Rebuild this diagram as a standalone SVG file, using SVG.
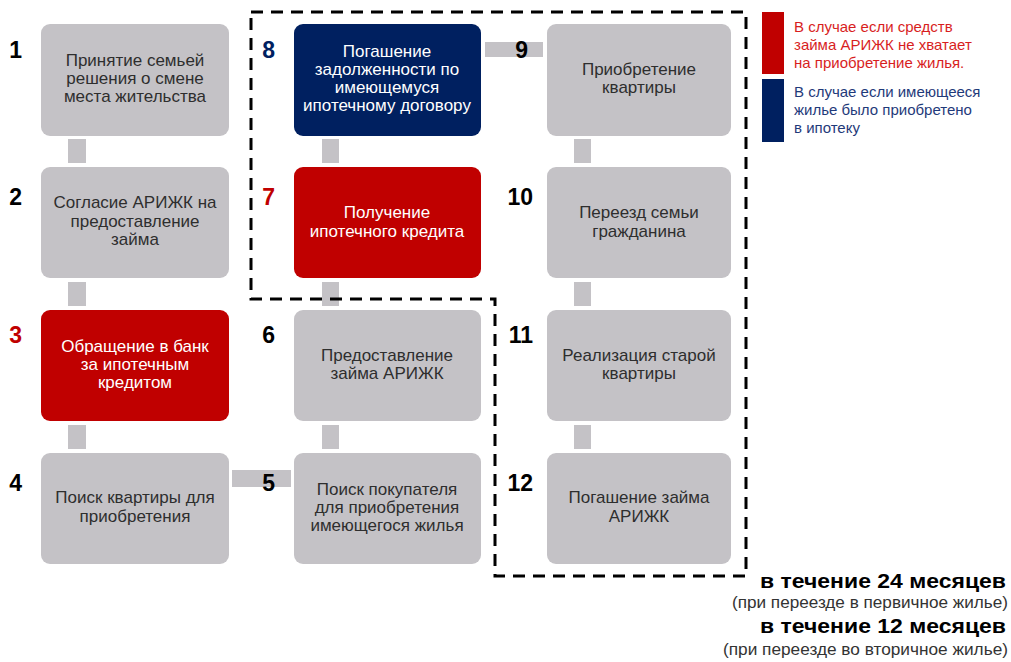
<svg xmlns="http://www.w3.org/2000/svg" width="1011" height="662" viewBox="0 0 1011 662">
<style>
.box{fill:#C4C2C6}
.red{fill:#C00000}
.navy{fill:#002060}
.bar{fill:#C4C2C6}
.t{font-family:"Liberation Sans",Arial,sans-serif;font-size:17px;text-anchor:middle;fill:#2E2E2E}
.w{fill:#FFFFFF}
.n{font-family:"Liberation Sans",Arial,sans-serif;font-size:23px;font-weight:bold;fill:#000}
.nr{fill:#C00000}
.nb{fill:#002060}
.lg{font-family:"Liberation Sans",Arial,sans-serif;font-size:15px}
.b{font-family:"Liberation Sans",Arial,sans-serif;font-size:20px;font-weight:bold;text-anchor:end;fill:#000}
.s{font-family:"Liberation Sans",Arial,sans-serif;font-size:16.5px;text-anchor:end;fill:#333}
</style>
<rect width="1011" height="662" fill="#FFFFFF"/>
<g id="connectors">
<rect class="bar" x="68" y="139" width="18" height="24"/>
<rect class="bar" x="68" y="282" width="18" height="24"/>
<rect class="bar" x="68" y="425" width="18" height="24"/>
<rect class="bar" x="322" y="139" width="17" height="24"/>
<rect class="bar" x="322" y="282" width="17" height="24"/>
<rect class="bar" x="322" y="425" width="17" height="24"/>
<rect class="bar" x="574" y="139" width="17" height="24"/>
<rect class="bar" x="574" y="282" width="17" height="24"/>
<rect class="bar" x="574" y="425" width="17" height="24"/>
<rect class="bar" x="485" y="42" width="58" height="15"/>
<rect class="bar" x="232" y="470" width="59" height="17"/>
</g>
<g id="region">
<path d="M251,12 H746 V576 H495 V299 H251 Z" fill="none" stroke="#000" stroke-width="3" stroke-dasharray="12,8"/>
</g>
<g id="node1">
<rect class="box" x="41" y="24" width="188" height="112" rx="9"/>
<text class="t" x="135" y="66">Принятие семьей</text>
<text class="t" x="135" y="84">решения о смене</text>
<text class="t" x="135" y="102">места жительства</text>
<text class="n" x="22" y="58" text-anchor="end">1</text>
</g>
<g id="node2">
<rect class="box" x="41" y="167" width="188" height="111" rx="9"/>
<text class="t" x="135" y="208">Согласие АРИЖК на</text>
<text class="t" x="135" y="227">предоставление</text>
<text class="t" x="135" y="245">займа</text>
<text class="n" x="22" y="205" text-anchor="end">2</text>
</g>
<g id="node3">
<rect class="red" x="41" y="310" width="188" height="111" rx="9"/>
<text class="t w" x="135" y="352">Обращение  в банк</text>
<text class="t w" x="135" y="370">за ипотечным</text>
<text class="t w" x="135" y="388">кредитом</text>
<text class="n nr" x="22" y="343" text-anchor="end">3</text>
</g>
<g id="node4">
<rect class="box" x="41" y="453" width="188" height="111" rx="9"/>
<text class="t" x="135" y="503">Поиск квартиры для</text>
<text class="t" x="135" y="522">приобретения</text>
<text class="n" x="22" y="491" text-anchor="end">4</text>
</g>
<g id="node5">
<rect class="box" x="294" y="453" width="187" height="111" rx="9"/>
<text class="t" x="387" y="495">Поиск покупателя</text>
<text class="t" x="387" y="513">для приобретения</text>
<text class="t" x="387" y="531">имеющегося жилья</text>
<text class="n" x="275" y="491" text-anchor="end">5</text>
</g>
<g id="node6">
<rect class="box" x="294" y="310" width="187" height="111" rx="9"/>
<text class="t" x="387" y="361">Предоставление</text>
<text class="t" x="387" y="379">займа  АРИЖК</text>
<text class="n" x="275" y="343" text-anchor="end">6</text>
</g>
<g id="node7">
<rect class="red" x="294" y="167" width="187" height="111" rx="9"/>
<text class="t w" x="387" y="218">Получение</text>
<text class="t w" x="387" y="237">ипотечного  кредита</text>
<text class="n nr" x="275" y="205" text-anchor="end">7</text>
</g>
<g id="node8">
<rect class="navy" x="294" y="24" width="187" height="112" rx="9"/>
<text class="t w" x="387" y="57">Погашение</text>
<text class="t w" x="387" y="75">задолженности  по</text>
<text class="t w" x="387" y="93">имеющемуся</text>
<text class="t w" x="387" y="111">ипотечному  договору</text>
<text class="n nb" x="275" y="58" text-anchor="end">8</text>
</g>
<g id="node9">
<rect class="box" x="547" y="24" width="184" height="112" rx="9"/>
<text class="t" x="639" y="75">Приобретение</text>
<text class="t" x="639" y="93">квартиры</text>
<text class="n" x="528" y="58" text-anchor="end">9</text>
</g>
<g id="node10">
<rect class="box" x="547" y="167" width="184" height="111" rx="9"/>
<text class="t" x="639" y="218">Переезд семьи</text>
<text class="t" x="639" y="237">гражданина</text>
<text class="n" x="533" y="205" text-anchor="end">10</text>
</g>
<g id="node11">
<rect class="box" x="547" y="310" width="184" height="111" rx="9"/>
<text class="t" x="639" y="361">Реализация старой</text>
<text class="t" x="639" y="379">квартиры</text>
<text class="n" x="533" y="343" text-anchor="end">11</text>
</g>
<g id="node12">
<rect class="box" x="547" y="453" width="184" height="111" rx="9"/>
<text class="t" x="639" y="503">Погашение займа</text>
<text class="t" x="639" y="522">АРИЖК</text>
<text class="n" x="533" y="491" text-anchor="end">12</text>
</g>
<g id="legend">
<rect x="762" y="12" width="22" height="62" fill="#C00000"/>
<rect x="762" y="79" width="22" height="63" fill="#002060"/>
<text class="lg" x="794" y="32" fill="#D81E1E">В случае если средств</text>
<text class="lg" x="794" y="50" fill="#D81E1E">займа АРИЖК не хватает</text>
<text class="lg" x="794" y="68" fill="#D81E1E">на приобретение жилья.</text>
<text class="lg" x="794" y="97" fill="#1F3A7A">В случае если имеющееся</text>
<text class="lg" x="794" y="115" fill="#1F3A7A">жилье было приобретено</text>
<text class="lg" x="794" y="133" fill="#1F3A7A">в ипотеку</text>
</g>
<g id="notes">
<text class="b" x="1006" y="588" textLength="246" lengthAdjust="spacingAndGlyphs">в течение 24 месяцев</text>
<text class="s" x="1008" y="608" textLength="276" lengthAdjust="spacingAndGlyphs">(при переезде в первичное жилье)</text>
<text class="b" x="1006" y="633" textLength="246" lengthAdjust="spacingAndGlyphs">в течение 12 месяцев</text>
<text class="s" x="1008" y="655" textLength="285" lengthAdjust="spacingAndGlyphs">(при переезде во вторичное жилье)</text>
</g>
</svg>
